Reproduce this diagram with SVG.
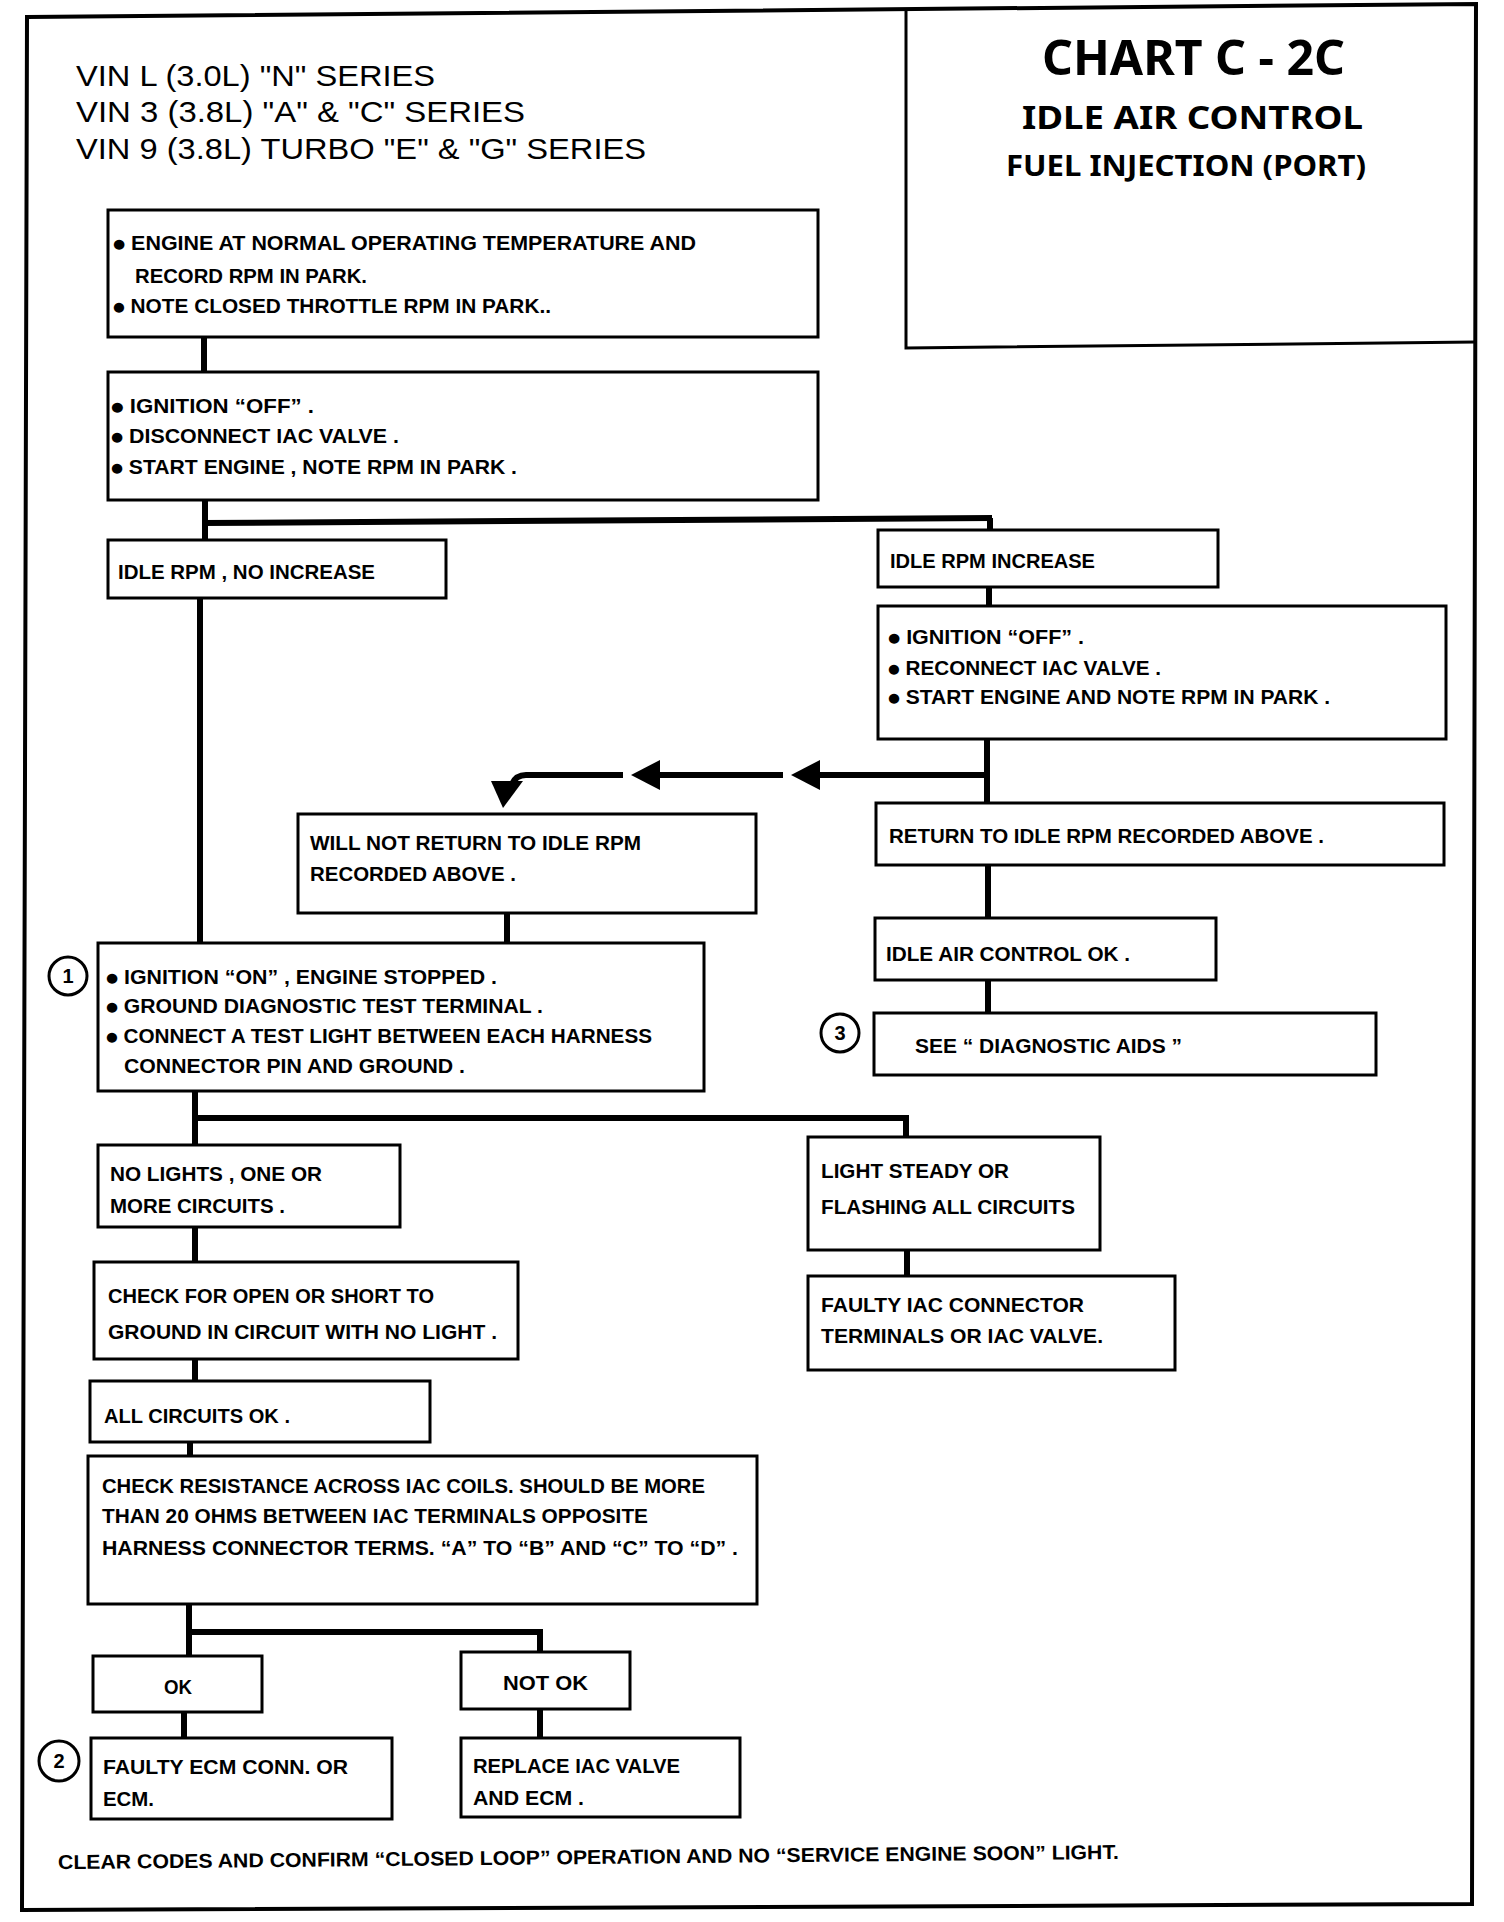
<svg xmlns="http://www.w3.org/2000/svg" width="1504" height="1922" viewBox="0 0 1504 1922">
<style>
.bx{fill:#fff;stroke:#000;stroke-width:3}
.cn{fill:none;stroke:#000;stroke-width:6}
.t{font-family:"Liberation Sans Narrow","Liberation Sans",Arial,sans-serif;font-weight:bold;font-size:20px;fill:#000}
.b{font-family:"DejaVu Sans",sans-serif;font-size:13px}
.h{font-family:"Liberation Sans",Arial,sans-serif;font-size:30px;fill:#000}
.ti{font-family:"Noto Sans","Open Sans","Liberation Sans",sans-serif;font-weight:bold;fill:#000;text-anchor:start}
.num{font-family:"Liberation Sans",Arial,sans-serif;font-weight:bold;font-size:20px;text-anchor:middle;fill:#000}
.cir{fill:#fff;stroke:#000;stroke-width:3}
</style>
<defs>
<marker id="arr" markerUnits="userSpaceOnUse" viewBox="0 0 30 30" markerWidth="30" markerHeight="30" refX="0" refY="15" orient="auto">
<path d="M0,0 L29,15 L0,30 Z" fill="#000"/>
</marker>
</defs>
<rect width="1504" height="1922" fill="#fff"/>
<g id="frame">
<path d="M27,17 L1476,4 L1472,1904 L22,1910 Z" fill="none" stroke="#000" stroke-width="4"/>
</g>
<g id="title">
<path d="M906,8 L906,348 L1476,342" fill="none" stroke="#000" stroke-width="3"/>
<text class="ti" x="1042" y="75" font-size="48" textLength="303" lengthAdjust="spacingAndGlyphs">CHART C - 2C</text>
<text class="ti" x="1022" y="129" font-size="33" textLength="341" lengthAdjust="spacingAndGlyphs">IDLE AIR CONTROL</text>
<text class="ti" x="1006" y="176" font-size="28" font-weight="600" textLength="360" lengthAdjust="spacingAndGlyphs">FUEL INJECTION (PORT)</text>
</g>
<g id="header">
<text class="h" x="76" y="86" textLength="359" lengthAdjust="spacingAndGlyphs">VIN L (3.0L) "N" SERIES</text>
<text class="h" x="76" y="122" textLength="449" lengthAdjust="spacingAndGlyphs">VIN 3 (3.8L) "A" &amp; "C" SERIES</text>
<text class="h" x="76" y="159" textLength="570" lengthAdjust="spacingAndGlyphs">VIN 9 (3.8L) TURBO "E" &amp; "G" SERIES</text>
</g>
<g id="connectors">
<path class="cn" d="M204,337 V372"/>
<path class="cn" d="M205,500 V540"/>
<path class="cn" d="M202,523 L992,518"/>
<path class="cn" d="M990,518 V530"/>
<path class="cn" d="M200,598 V943"/>
<path class="cn" d="M989,587 V606"/>
<path class="cn" d="M987,739 V803"/>
<path class="cn" d="M990,775 H820" marker-end="url(#arr)"/>
<path class="cn" d="M783,775 H660" marker-end="url(#arr)"/>
<path class="cn" d="M623,775 H526 Q516,775 512,784"/>
<polygon points="491,781 523,781 503,808" fill="#000"/>
<path class="cn" d="M507,913 V943"/>
<path class="cn" d="M988,865 V918"/>
<path class="cn" d="M988,980 V1013"/>
<path class="cn" d="M195,1090 V1145"/>
<path class="cn" d="M192,1118 H906 V1137"/>
<path class="cn" d="M195,1227 V1262"/>
<path class="cn" d="M195,1359 V1381"/>
<path class="cn" d="M190,1442 V1456"/>
<path class="cn" d="M189,1604 V1656"/>
<path class="cn" d="M186,1632 H540 V1652"/>
<path class="cn" d="M184,1712 V1738"/>
<path class="cn" d="M540,1709 V1738"/>
<path class="cn" d="M907,1250 V1276"/>
</g>
<g id="n_engine">
<rect class="bx" x="108" y="210" width="710" height="127"/>
<text class="t" x="113" y="250" textLength="583" lengthAdjust="spacingAndGlyphs"><tspan class="b" dy="-2">●</tspan><tspan dy="2"> ENGINE AT NORMAL OPERATING TEMPERATURE AND</tspan></text>
<text class="t" x="135" y="283" textLength="232" lengthAdjust="spacingAndGlyphs">RECORD RPM IN PARK.</text>
<text class="t" x="113" y="313" textLength="438" lengthAdjust="spacingAndGlyphs"><tspan class="b" dy="-2">●</tspan><tspan dy="2"> NOTE CLOSED THROTTLE RPM IN PARK..</tspan></text>
</g>
<g id="n_disconnect">
<rect class="bx" x="108" y="372" width="710" height="128"/>
<text class="t" x="111" y="413" textLength="203" lengthAdjust="spacingAndGlyphs"><tspan class="b" dy="-2">●</tspan><tspan dy="2"> IGNITION “OFF” .</tspan></text>
<text class="t" x="111" y="443" textLength="288" lengthAdjust="spacingAndGlyphs"><tspan class="b" dy="-2">●</tspan><tspan dy="2"> DISCONNECT IAC VALVE .</tspan></text>
<text class="t" x="111" y="474" textLength="406" lengthAdjust="spacingAndGlyphs"><tspan class="b" dy="-2">●</tspan><tspan dy="2"> START ENGINE , NOTE RPM IN PARK .</tspan></text>
</g>
<g id="n_noincrease">
<rect class="bx" x="108" y="540" width="338" height="58"/>
<text class="t" x="118" y="579" textLength="257" lengthAdjust="spacingAndGlyphs">IDLE RPM , NO INCREASE</text>
</g>
<g id="n_increase">
<rect class="bx" x="878" y="530" width="340" height="57"/>
<text class="t" x="890" y="568" textLength="205" lengthAdjust="spacingAndGlyphs">IDLE RPM INCREASE</text>
</g>
<g id="n_reconnect">
<rect class="bx" x="878" y="606" width="568" height="133"/>
<text class="t" x="888" y="644" textLength="196" lengthAdjust="spacingAndGlyphs"><tspan class="b" dy="-2">●</tspan><tspan dy="2"> IGNITION “OFF” .</tspan></text>
<text class="t" x="888" y="675" textLength="273" lengthAdjust="spacingAndGlyphs"><tspan class="b" dy="-2">●</tspan><tspan dy="2"> RECONNECT IAC VALVE .</tspan></text>
<text class="t" x="888" y="704" textLength="442" lengthAdjust="spacingAndGlyphs"><tspan class="b" dy="-2">●</tspan><tspan dy="2"> START ENGINE AND NOTE RPM IN PARK .</tspan></text>
</g>
<g id="n_willnot">
<rect class="bx" x="298" y="814" width="458" height="99"/>
<text class="t" x="310" y="850" textLength="331" lengthAdjust="spacingAndGlyphs">WILL NOT RETURN TO IDLE RPM</text>
<text class="t" x="310" y="881" textLength="206" lengthAdjust="spacingAndGlyphs">RECORDED ABOVE .</text>
</g>
<g id="n_return">
<rect class="bx" x="876" y="803" width="568" height="62"/>
<text class="t" x="889" y="843" textLength="435" lengthAdjust="spacingAndGlyphs">RETURN TO IDLE RPM RECORDED ABOVE .</text>
</g>
<g id="n_iacok">
<rect class="bx" x="875" y="918" width="341" height="62"/>
<text class="t" x="886" y="961" textLength="244" lengthAdjust="spacingAndGlyphs">IDLE AIR CONTROL OK .</text>
</g>
<g id="n_seeaids">
<rect class="bx" x="874" y="1013" width="502" height="62"/>
<text class="t" x="915" y="1053" textLength="267" lengthAdjust="spacingAndGlyphs">SEE “ DIAGNOSTIC AIDS ”</text>
<circle class="cir" cx="840" cy="1033" r="19"/>
<text class="num" x="840" y="1040">3</text>
</g>
<g id="n_ignon">
<rect class="bx" x="98" y="943" width="606" height="148"/>
<text class="t" x="106" y="984" textLength="391" lengthAdjust="spacingAndGlyphs"><tspan class="b" dy="-2">●</tspan><tspan dy="2"> IGNITION “ON” , ENGINE STOPPED .</tspan></text>
<text class="t" x="106" y="1013" textLength="437" lengthAdjust="spacingAndGlyphs"><tspan class="b" dy="-2">●</tspan><tspan dy="2"> GROUND DIAGNOSTIC TEST TERMINAL .</tspan></text>
<text class="t" x="106" y="1043" textLength="546" lengthAdjust="spacingAndGlyphs"><tspan class="b" dy="-2">●</tspan><tspan dy="2"> CONNECT A TEST LIGHT BETWEEN EACH HARNESS</tspan></text>
<text class="t" x="124" y="1073" textLength="341" lengthAdjust="spacingAndGlyphs">CONNECTOR PIN AND GROUND .</text>
<circle class="cir" cx="68" cy="976" r="19"/>
<text class="num" x="68" y="983">1</text>
</g>
<g id="n_nolights">
<rect class="bx" x="98" y="1145" width="302" height="82"/>
<text class="t" x="110" y="1181" textLength="212" lengthAdjust="spacingAndGlyphs">NO LIGHTS , ONE OR</text>
<text class="t" x="110" y="1213" textLength="175" lengthAdjust="spacingAndGlyphs">MORE CIRCUITS .</text>
</g>
<g id="n_checkopen">
<rect class="bx" x="94" y="1262" width="424" height="97"/>
<text class="t" x="108" y="1303" textLength="326" lengthAdjust="spacingAndGlyphs">CHECK FOR OPEN OR SHORT TO</text>
<text class="t" x="108" y="1339" textLength="389" lengthAdjust="spacingAndGlyphs">GROUND IN CIRCUIT WITH NO LIGHT .</text>
</g>
<g id="n_allok">
<rect class="bx" x="90" y="1381" width="340" height="61"/>
<text class="t" x="104" y="1423" textLength="186" lengthAdjust="spacingAndGlyphs">ALL CIRCUITS OK .</text>
</g>
<g id="n_resistance">
<rect class="bx" x="88" y="1456" width="669" height="148"/>
<text class="t" x="102" y="1493" textLength="603" lengthAdjust="spacingAndGlyphs">CHECK RESISTANCE ACROSS IAC COILS. SHOULD BE MORE</text>
<text class="t" x="102" y="1523" textLength="546" lengthAdjust="spacingAndGlyphs">THAN 20 OHMS BETWEEN IAC TERMINALS OPPOSITE</text>
<text class="t" x="102" y="1555" textLength="636" lengthAdjust="spacingAndGlyphs">HARNESS CONNECTOR TERMS. “A” TO “B” AND “C” TO “D” .</text>
</g>
<g id="n_ok">
<rect class="bx" x="93" y="1656" width="169" height="56"/>
<text class="t" x="164" y="1694" textLength="28" lengthAdjust="spacingAndGlyphs">OK</text>
</g>
<g id="n_notok">
<rect class="bx" x="461" y="1652" width="169" height="57"/>
<text class="t" x="503" y="1690" textLength="85" lengthAdjust="spacingAndGlyphs">NOT OK</text>
</g>
<g id="n_faultyecm">
<rect class="bx" x="91" y="1738" width="301" height="81"/>
<text class="t" x="103" y="1774" textLength="245" lengthAdjust="spacingAndGlyphs">FAULTY ECM CONN. OR</text>
<text class="t" x="103" y="1806" textLength="51" lengthAdjust="spacingAndGlyphs">ECM.</text>
<circle class="cir" cx="59" cy="1761" r="20"/>
<text class="num" x="59" y="1768">2</text>
</g>
<g id="n_replace">
<rect class="bx" x="461" y="1738" width="279" height="79"/>
<text class="t" x="473" y="1773" textLength="207" lengthAdjust="spacingAndGlyphs">REPLACE IAC VALVE</text>
<text class="t" x="473" y="1805" textLength="111" lengthAdjust="spacingAndGlyphs">AND ECM .</text>
</g>
<g id="n_steady">
<rect class="bx" x="808" y="1137" width="292" height="113"/>
<text class="t" x="821" y="1178" textLength="188" lengthAdjust="spacingAndGlyphs">LIGHT STEADY OR</text>
<text class="t" x="821" y="1214" textLength="254" lengthAdjust="spacingAndGlyphs">FLASHING  ALL CIRCUITS</text>
</g>
<g id="n_faultyiac">
<rect class="bx" x="808" y="1276" width="367" height="94"/>
<text class="t" x="821" y="1312" textLength="263" lengthAdjust="spacingAndGlyphs">FAULTY IAC CONNECTOR</text>
<text class="t" x="821" y="1343" textLength="282" lengthAdjust="spacingAndGlyphs">TERMINALS OR IAC VALVE.</text>
</g>
<g id="footer">
<text class="t" x="58" y="1864" textLength="1061" lengthAdjust="spacingAndGlyphs" transform="rotate(-0.55 588 1862)">CLEAR CODES AND CONFIRM  “CLOSED LOOP” OPERATION AND NO “SERVICE  ENGINE SOON” LIGHT.</text>
</g>
</svg>
